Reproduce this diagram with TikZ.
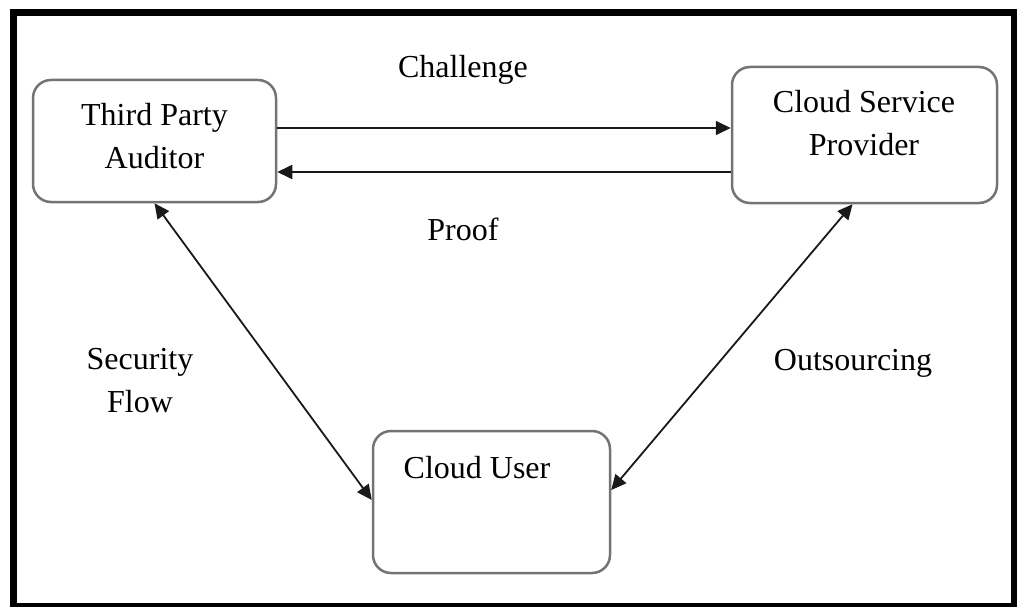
\documentclass[tikz,border=0pt]{standalone}
\usepackage{fontspec}
\setmainfont{Liberation Serif}
\usepackage{tikz}
\usetikzlibrary{arrows.meta}
\usetikzlibrary{calc}
\tikzset{
    frame/.style={draw=black, line width=7pt},
    box/.style={draw=black!55, line width=2.5pt, rounded corners=18pt, rectangle},
    lbl/.style={font=\fontsize{32}{43}\selectfont, anchor=base, align=center, inner sep=0pt},
    tip/.style={>={Triangle[length=15pt, width=14pt]}},
    msg/.style={tip, ->, line width=1.8pt, draw=black!90},
    link/.style={tip, <->, line width=1.8pt, draw=black!90},
}

\begin{document}
\begin{tikzpicture}[x=1pt, y=-1pt]
    \useasboundingbox (0,0) rectangle (1017,607);
    \draw[frame] (13.5,12.5) rectangle (1014.5,606.5);

    % the three parties
    \path
        (154.5,141) node[box, minimum width=243, minimum height=122] (tpa) {}
        (864.5,135) node[box, minimum width=265, minimum height=136] (csp) {}
        (491.5,502) node[box, minimum width=237, minimum height=142] (cu) {};

    % base of a two-line label is its last line
    \path
        (154.5,168) node[lbl] (tpa-text) {Third Party\\Auditor}
        (864,155) node[lbl] (csp-text) {Cloud Service\\Provider}
        (477,478) node[lbl] (cu-text) {Cloud User};

    % edge labels
    \path
        (463,78) node[lbl] (challenge) {Challenge}
        (463,240) node[lbl] (proof) {Proof}
        (140,412) node[lbl] (security) {Security\\Flow}
        (853,370) node[lbl] (outsourcing) {Outsourcing};

    \draw[msg] ([yshift=13pt]tpa.east) coordinate (challenge-start) -- (challenge-start -| csp.west);
    \draw[msg] ([yshift=-31pt]tpa.east -| csp.west) coordinate (proof-start) -- (proof-start -| tpa.east);
    \draw[link] (tpa.south) -- ([yshift=2pt]cu.west);
    \draw[link] ([yshift=12pt]cu.east) -- ([xshift=-12pt]csp.south);
\end{tikzpicture}
\end{document}
